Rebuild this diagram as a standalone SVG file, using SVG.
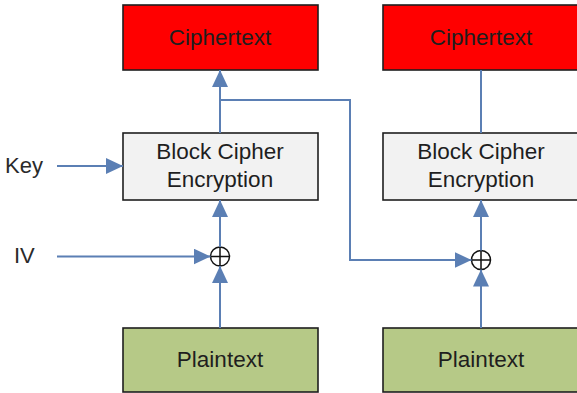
<svg xmlns="http://www.w3.org/2000/svg" width="577" height="393" viewBox="0 0 577 393">
<style>
.box{stroke:#1e1e1e;stroke-width:1.6}
.ct{fill:#ff0000}
.bc{fill:#f2f2f2}
.pt{fill:#b6c987}
.t{font-family:"Liberation Sans",Arial,sans-serif;font-size:22.5px;fill:#1e1e1e;text-anchor:middle}
.lb{font-family:"Liberation Sans",Arial,sans-serif;font-size:22px;fill:#2a2a2a}
.c{fill:none;stroke:#5b7fb4;stroke-width:2}
.x{fill:#fff;stroke:#111;stroke-width:1.5}
</style>
<defs>
<marker id="a" viewBox="0 0 17 16" refX="17" refY="8" markerWidth="17" markerHeight="16" markerUnits="userSpaceOnUse" orient="auto">
<path d="M0,0 L17,8 L0,16 Z" fill="#5b7fb4"/>
</marker>
</defs>
<g id="ct1"><rect class="box ct" x="123" y="5" width="195" height="65"/><text class="t" x="220" y="45">Ciphertext</text></g>
<g id="ct2"><rect class="box ct" x="383" y="5" width="210" height="65"/><text class="t" x="481" y="45">Ciphertext</text></g>
<g id="bc1"><rect class="box bc" x="123" y="133" width="195" height="67"/><text class="t" x="220" y="159">Block Cipher</text><text class="t" x="220" y="187">Encryption</text></g>
<g id="bc2"><rect class="box bc" x="383" y="133" width="210" height="67"/><text class="t" x="481" y="159">Block Cipher</text><text class="t" x="481" y="187">Encryption</text></g>
<g id="pt1"><rect class="box pt" x="123" y="328" width="195" height="64" stroke="#3a4a20"/><text class="t" x="220" y="367">Plaintext</text></g>
<g id="pt2"><rect class="box pt" x="383" y="328" width="210" height="64"/><text class="t" x="481" y="367">Plaintext</text></g>
<g id="key"><text class="lb" x="5" y="173">Key</text></g>
<g id="iv"><text class="lb" x="14" y="263">IV</text></g>
<g id="x1"><circle class="x" cx="220" cy="256.5" r="9.5"/><path d="M210.5,256.5 H229.5 M220,247 V266" stroke="#111" stroke-width="1.5"/></g>
<g id="x2"><circle class="x" cx="481" cy="260" r="9.5"/><path d="M471.5,260 H490.5 M481,250.5 V269.5" stroke="#111" stroke-width="1.5"/></g>
<g id="connectors">
<path class="c" d="M57,166 H123" marker-end="url(#a)"/>
<path class="c" d="M57,256.5 H210.5" marker-end="url(#a)"/>
<path class="c" d="M220,328 V266" marker-end="url(#a)"/>
<path class="c" d="M220,247 V200" marker-end="url(#a)"/>
<path class="c" d="M220,133 V70" marker-end="url(#a)"/>
<path class="c" d="M220,100 H350 V260 H471.5" marker-end="url(#a)"/>
<path class="c" d="M481,328 V269.5" marker-end="url(#a)"/>
<path class="c" d="M481,250.5 V200" marker-end="url(#a)"/>
<path class="c" d="M481,133 V70"/>
</g>
</svg>
